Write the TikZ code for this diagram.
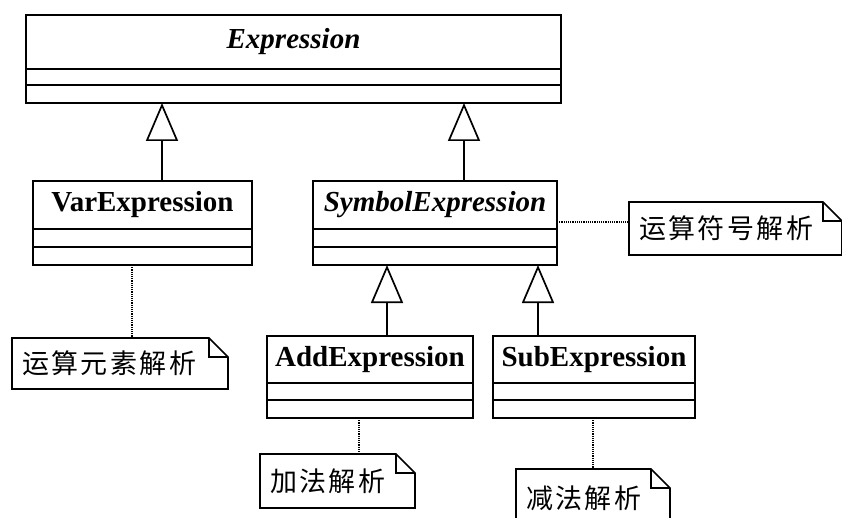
\documentclass[tikz,border=0pt]{standalone}
\usepackage{fontspec}
\setmainfont{Liberation Serif}
\newfontfamily\cjk[LetterSpace=9]{Noto Sans CJK SC}
\usepackage{tikz}
\usetikzlibrary{arrows.meta, positioning}

\newcommand{\notefold}[1]{%
  \draw[notel] (#1.north west) -- ([xshift=-19pt]#1.north east)
    -- ([yshift=-19pt]#1.north east) -- (#1.south east) -- (#1.south west) -- cycle;
  \draw[notel] ([xshift=-19pt]#1.north east) |- ([yshift=-19pt]#1.north east);}

\begin{document}
\begin{tikzpicture}[x=1pt, y=-1pt,
    cls/.style={draw, line width=1.7pt, inner sep=0pt, outer sep=0pt,
                font=\fontsize{29}{31}\selectfont\bfseries},
    compart/.style={draw, line width=1.7pt, inner sep=0pt, outer sep=0pt},
    gen/.style={line width=1.7pt, -{Triangle[open, length=38pt, width=32pt]}},
    dep/.style={line width=1.2pt, densely dotted},
    note/.style={inner xsep=10pt, inner ysep=0pt, outer sep=0pt, align=left,
                 font=\fontsize{27}{29}\selectfont\cjk},
    notel/.style={line width=1.7pt}
  ]
  \useasboundingbox (0,0) rectangle (842,518);

  % classes
  \node[cls, minimum width=535pt, minimum height=54pt] (expr) at (293.5,42) {\textit{Expression}};
  \node[compart, minimum width=535pt, minimum height=16pt, below=0pt of expr] (expr-a) {};
  \node[compart, minimum width=535pt, minimum height=18pt, below=0pt of expr-a] (expr-o) {};

  \node[cls, minimum width=219pt, minimum height=48pt] (var) at (142.5,205) {VarExpression};
  \node[compart, minimum width=219pt, minimum height=18pt, below=0pt of var] (var-a) {};
  \node[compart, minimum width=219pt, minimum height=18pt, below=0pt of var-a] (var-o) {};

  \node[cls, minimum width=244pt, minimum height=48pt] (sym) at (435,205) {\textit{SymbolExpression}};
  \node[compart, minimum width=244pt, minimum height=18pt, below=0pt of sym] (sym-a) {};
  \node[compart, minimum width=244pt, minimum height=18pt, below=0pt of sym-a] (sym-o) {};

  \node[cls, minimum width=206pt, minimum height=47pt] (add) at (370,359.5) {AddExpression};
  \node[compart, minimum width=206pt, minimum height=17pt, below=0pt of add] (add-a) {};
  \node[compart, minimum width=206pt, minimum height=18pt, below=0pt of add-a] (add-o) {};

  \node[cls, minimum width=202pt, minimum height=47pt] (sub) at (594,359.5) {SubExpression};
  \node[compart, minimum width=202pt, minimum height=17pt, below=0pt of sub] (sub-a) {};
  \node[compart, minimum width=202pt, minimum height=18pt, below=0pt of sub-a] (sub-o) {};

  % notes
  \node[note, text width=196pt, minimum height=51pt] (n-var) at (120,363.5) {运算元素解析};
  \node[note, text width=193pt, minimum height=53pt] (n-sym) at (735.5,228.5) {运算符号解析};
  \node[note, text width=135pt, minimum height=54pt] (n-add) at (337.5,481) {加法解析};
  \node[note, text width=134pt, minimum height=59pt] (n-sub) at (593,498.5) {减法解析};
  \notefold{n-var}
  \notefold{n-sym}
  \notefold{n-add}
  \notefold{n-sub}

  % generalisation
  \draw[gen] ([xshift=19.5pt]var.north) -- ([xshift=19.5pt]var.north |- expr-o.south);
  \draw[gen] ([xshift=29pt]sym.north) -- ([xshift=29pt]sym.north |- expr-o.south);
  \draw[gen] ([xshift=17pt]add.north) -- ([xshift=17pt]add.north |- sym-o.south);
  \draw[gen] ([xshift=-56pt]sub.north) -- ([xshift=-56pt]sub.north |- sym-o.south);

  % note links
  \draw[dep] ([xshift=-10.5pt]var-o.south) -- ([xshift=12pt]n-var.north);
  \draw[dep] ([yshift=-17pt]sym.east) -- ([yshift=-17pt]sym.east -| n-sym.west);
  \draw[dep] ([xshift=-11pt]add-o.south) -- ([xshift=21.5pt]n-add.north);
  \draw[dep] (n-sub.north |- sub-o.south) -- (n-sub.north);
\end{tikzpicture}
\end{document}
